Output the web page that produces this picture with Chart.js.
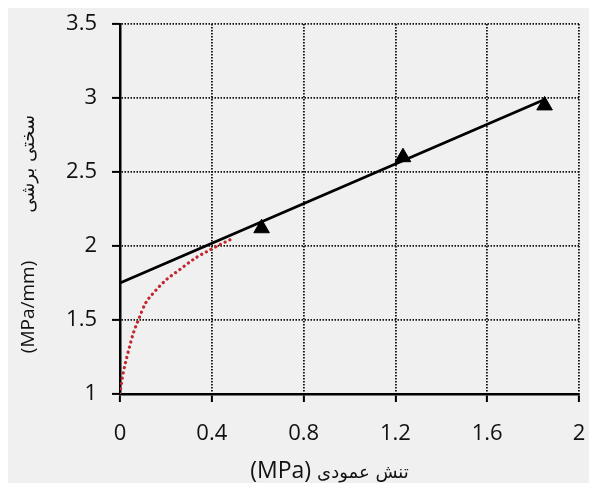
<!DOCTYPE html>
<html>
<head>
<meta charset="utf-8">
<script src="https://cdn.jsdelivr.net/npm/chart.js@4.4.1/dist/chart.umd.min.js"></script>
<style>
    html, body { margin: 0; padding: 0; background: #ffffff; }
    #wrap { width: 589px; height: 483px; }
</style>
</head>
<body>
<div id="wrap"><canvas id="shearChart" width="589" height="483"></canvas></div>
<script>
// Data
const testStress = [0.617, 1.233, 1.85];
const testStiffness = [2.12, 2.60, 2.95];

const fitStress = [0, 1.85];
const fitStiffness = [1.75, 2.99];

const curveStress = [0, 0.005, 0.015, 0.03, 0.045, 0.06, 0.08, 0.11, 0.15, 0.2, 0.26, 0.33, 0.4, 0.45, 0.49];
const curveStiffness = [1.0, 1.06, 1.15, 1.25, 1.34, 1.42, 1.5, 1.61, 1.69, 1.77, 1.84, 1.92, 1.98, 2.02, 2.05];

const xTicks = [0, 0.4, 0.8, 1.2, 1.6, 2];
const xTickLabels = ['0', '0.4', '0.8', '1.2', '1.6', '2'];
const yTicks = [1, 1.5, 2, 2.5, 3, 3.5];
const yTickLabels = ['1', '1.5', '2', '2.5', '3', '3.5'];

// Axis titles: unit part and Persian part
const xTitleUnit = '(MPa)';
const xTitleText = 'تنش عمودی';
const yTitleUnit = '(MPa/mm)';
const yTitleText = 'سختی برشی';

const toPoints = (xs, ys) => xs.map((x, i) => ({ x: x, y: ys[i] }));

const arabicFont = '18px "DejaVu Sans", sans-serif';

// Gray panel behind the chart
const panelBackground = {
    id: 'panelBackground',
    beforeDraw(chart) {
        const ctx = chart.ctx;
        ctx.save();
        ctx.fillStyle = '#ffffff';
        ctx.fillRect(0, 0, chart.width, chart.height);
        ctx.fillStyle = '#f0f0f0';
        ctx.fillRect(8, 8, chart.width - 8, chart.height - 8);
        ctx.restore();
    }
};

// Draw a title made of a latin unit and a persian label, left to right
function drawTitleParts(ctx, unit, unitFont, text, gap) {
    ctx.font = unitFont;
    const w1 = ctx.measureText(unit).width;
    ctx.font = arabicFont;
    const w2 = ctx.measureText(text).width;
    const start = -(w1 + gap + w2) / 2;
    ctx.textAlign = 'left';
    ctx.textBaseline = 'alphabetic';
    ctx.font = unitFont;
    ctx.fillText(unit, start, 0);
    ctx.font = arabicFont;
    ctx.fillText(text, start + w1 + gap, 0);
}

const axisTitles = {
    id: 'axisTitles',
    afterDraw(chart) {
        const ctx = chart.ctx;
        const area = chart.chartArea;
        ctx.save();
        ctx.fillStyle = '#111111';

        // x title, under the tick labels
        ctx.save();
        ctx.translate((area.left + area.right) / 2 - 20, chart.height - 5);
        drawTitleParts(ctx, xTitleUnit, '23px "Open Sans", sans-serif', xTitleText, 6);
        ctx.restore();

        // y title, rotated, left of the tick labels
        ctx.save();
        ctx.translate(34, (area.top + area.bottom) / 2 + 25);
        ctx.rotate(-Math.PI / 2);
        drawTitleParts(ctx, yTitleUnit, '19px "Open Sans", sans-serif', yTitleText, 48);
        ctx.restore();

        ctx.restore();
    }
};

const fontFamily = '"Open Sans", "DejaVu Sans", sans-serif';

const ctx = document.getElementById('shearChart').getContext('2d');
const shearChart = new Chart(ctx, {
    type: 'scatter',
    data: {
        datasets: [
            {
                label: 'curve',
                data: toPoints(curveStress, curveStiffness),
                showLine: true,
                borderColor: '#c0282d',
                borderWidth: 3.2,
                borderDash: [0.1, 5.2],
                borderCapStyle: 'round',
                cubicInterpolationMode: 'monotone',
                pointRadius: 0,
                fill: false
            },
            {
                label: 'fit',
                data: toPoints(fitStress, fitStiffness),
                showLine: true,
                borderColor: '#000000',
                borderWidth: 2.8,
                pointRadius: 0,
                fill: false
            },
            {
                label: 'test',
                data: toPoints(testStress, testStiffness),
                showLine: false,
                pointStyle: 'triangle',
                pointRadius: 9,
                pointBackgroundColor: '#000000',
                pointBorderColor: '#000000',
                pointBorderWidth: 1
            }
        ]
    },
    options: {
        responsive: false,
        animation: false,
        layout: {
            padding: { top: 24, right: 9, left: 0, bottom: 0 }
        },
        plugins: {
            legend: { display: false },
            tooltip: { enabled: false }
        },
        scales: {
            x: {
                type: 'linear',
                min: 0,
                max: 2,
                afterBuildTicks: scale => { scale.ticks = xTicks.map(v => ({ value: v })); },
                afterFit: scale => {
                    scale.height = 89;
                    scale.paddingLeft = 0;
                    scale.paddingRight = 0;
                },
                ticks: {
                    color: '#111111',
                    padding: 19,
                    font: { family: fontFamily, size: 22 },
                    callback: (value, index) => xTickLabels[index]
                },
                grid: {
                    color: '#111111',
                    lineWidth: 1.8,
                    tickLength: 8,
                    tickColor: '#000000',
                    tickWidth: 2
                },
                border: {
                    display: true,
                    color: '#000000',
                    width: 2.5,
                    dash: [1.5, 1.5]
                }
            },
            y: {
                type: 'linear',
                min: 1,
                max: 3.5,
                afterBuildTicks: scale => { scale.ticks = yTicks.map(v => ({ value: v })); },
                afterFit: scale => {
                    scale.width = 120;
                    scale.paddingTop = 0;
                    scale.paddingBottom = 0;
                },
                ticks: {
                    color: '#111111',
                    padding: 15,
                    font: { family: fontFamily, size: 22 },
                    callback: (value, index) => yTickLabels[index]
                },
                grid: {
                    color: '#111111',
                    lineWidth: 1.8,
                    tickLength: 8,
                    tickColor: '#000000',
                    tickWidth: 2
                },
                border: {
                    display: true,
                    color: '#000000',
                    width: 2.5,
                    dash: [1.5, 1.5]
                }
            }
        }
    },
    plugins: [panelBackground, axisTitles]
});
</script>
</body>
</html>
